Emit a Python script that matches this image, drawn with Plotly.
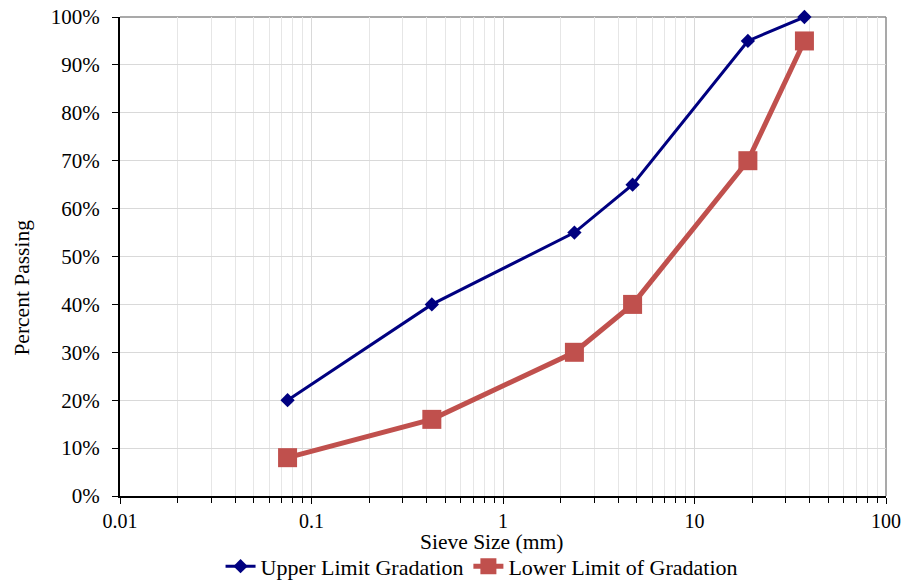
import plotly.graph_objects as go

sieve_mm = [0.075, 0.425, 2.36, 4.75, 19, 37.5]
upper_pct = [20, 40, 55, 65, 95, 100]
lower_pct = [8, 16, 30, 40, 70, 95]
y_ticks = [0, 10, 20, 30, 40, 50, 60, 70, 80, 90, 100]
y_tick_labels = [f"{v}%" for v in y_ticks]
x_ticks = [0.01, 0.1, 1, 10, 100]
x_tick_labels = ["0.01", "0.1", "1", "10", "100"]

FONT = "Liberation Serif, Times New Roman, serif"

fig = go.Figure()
fig.add_trace(go.Scatter(
    x=sieve_mm, y=upper_pct, mode="lines+markers",
    name="Upper Limit Gradation", cliponaxis=False,
    line=dict(color="#000080", width=3),
    marker=dict(symbol="diamond", size=11, color="#000080"),
))
fig.add_trace(go.Scatter(
    x=sieve_mm, y=lower_pct, mode="lines+markers",
    name="Lower Limit of Gradation", cliponaxis=False,
    line=dict(color="#C0504D", width=5),
    marker=dict(symbol="square", size=19, color="#C0504D"),
))

fig.update_layout(
    width=907, height=586,
    margin=dict(l=120, r=21, t=17, b=90, autoexpand=False),
    paper_bgcolor="white", plot_bgcolor="white",
    font=dict(family=FONT, size=21, color="black"),
    showlegend=True,
    legend=dict(orientation="h", x=0.472, xanchor="center", y=-0.103, yanchor="top",
                font=dict(family=FONT, size=22, color="black"),
                tracegroupgap=0, bgcolor="rgba(0,0,0,0)"),
)
fig.update_xaxes(
    type="log", range=[-2, 2],
    tickvals=x_ticks, ticktext=x_tick_labels,
    ticks="outside", ticklen=6, tickcolor="black", tickwidth=1,
    showline=True, linecolor="black", linewidth=2,
    showgrid=True, gridcolor="#d9d9d9", gridwidth=1,
    minor=dict(ticks="outside", ticklen=5, tickcolor="black", showgrid=True,
               gridcolor="#e6e6e6", dtick="D1"),
    tickfont=dict(family=FONT, size=20),
    zeroline=False,
)
fig.update_yaxes(
    range=[0, 100],
    tickvals=y_ticks, ticktext=y_tick_labels,
    ticks="outside", ticklen=6, tickcolor="black",
    ticklabelstandoff=8,
    showline=True, linecolor="black", linewidth=2,
    showgrid=True, gridcolor="#d9d9d9",
    tickfont=dict(family=FONT, size=21),
    zeroline=False,
)
# top/right gray frame
fig.add_shape(type="line", xref="paper", yref="paper", x0=0, x1=1, y0=1, y1=1,
              line=dict(color="#8c8c8c", width=1.5), layer="below")
fig.add_shape(type="line", xref="paper", yref="paper", x0=1, x1=1, y0=0, y1=1,
              line=dict(color="#8c8c8c", width=1.5), layer="below")

fig.add_annotation(text="Sieve Size (mm)", xref="paper", yref="paper",
                   x=0.485, y=-0.067, xanchor="center", yanchor="top",
                   showarrow=False, font=dict(family=FONT, size=21.5))
fig.add_annotation(text="Percent Passing", xref="paper", yref="paper",
                   x=-0.128, y=0.435, xanchor="center", yanchor="middle",
                   textangle=-90, showarrow=False, font=dict(family=FONT, size=21.5))

fig.write_html("out.html", config={"displayModeBar": False},
               post_script="document.body.style.margin='0';")
